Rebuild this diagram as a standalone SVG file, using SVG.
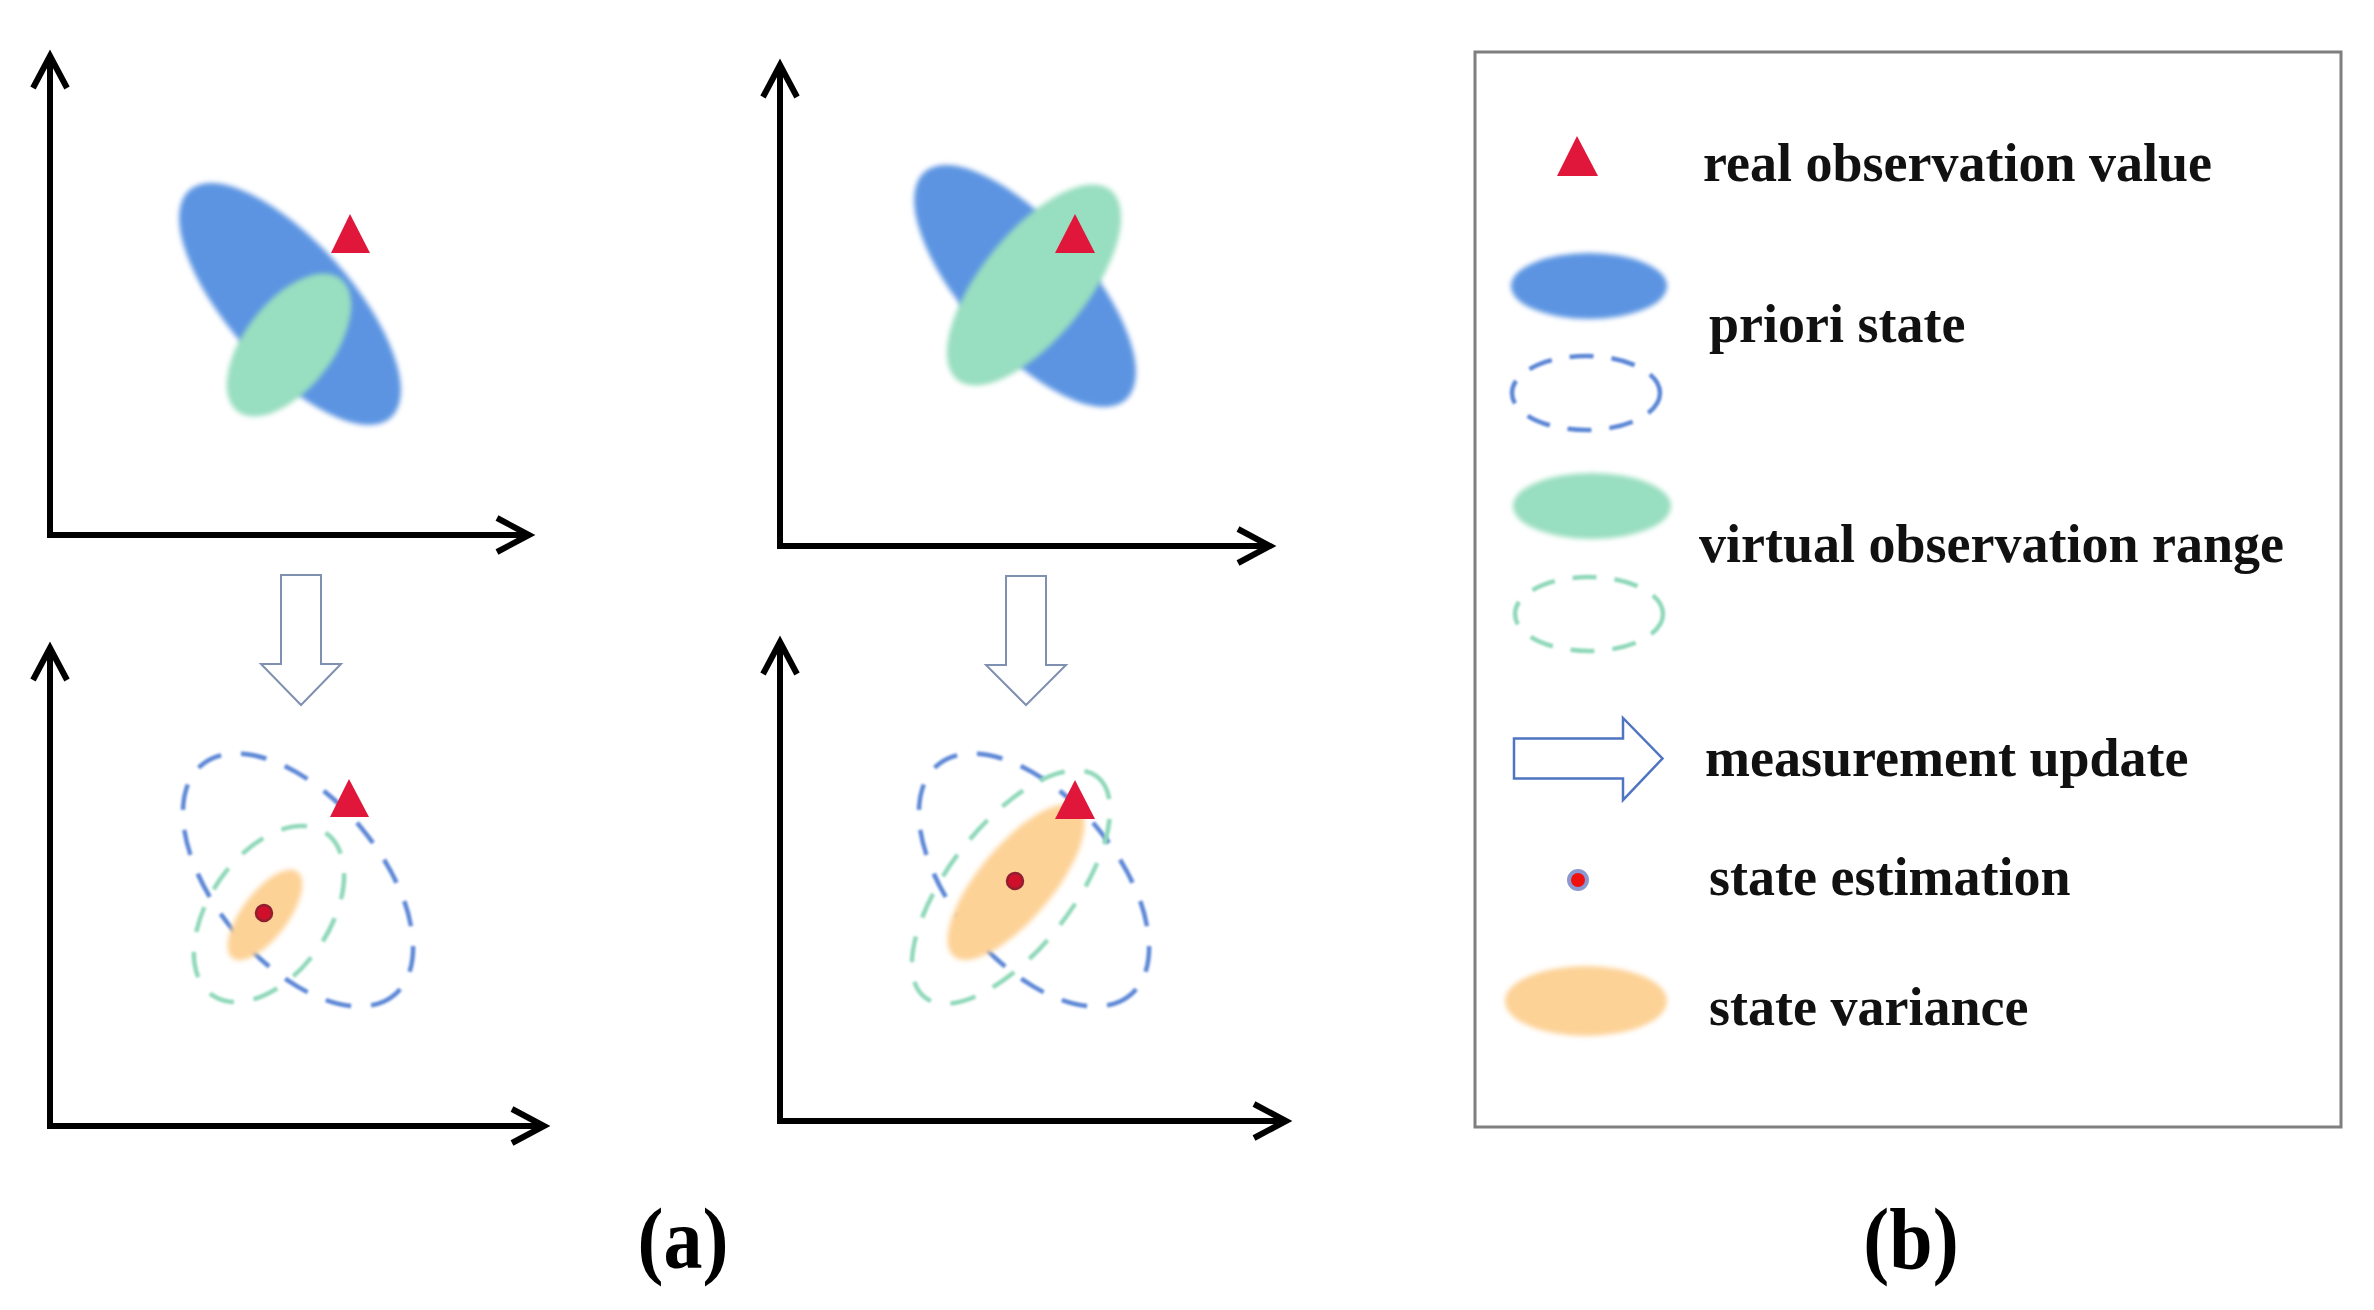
<svg xmlns="http://www.w3.org/2000/svg" width="2374" height="1310" viewBox="0 0 2374 1310">
<defs>
<filter id="soft" x="-30%" y="-30%" width="160%" height="160%"><feGaussianBlur stdDeviation="2.5"/></filter>
<filter id="softer" x="-30%" y="-30%" width="160%" height="160%"><feGaussianBlur stdDeviation="1"/></filter>
</defs>
<style>
.axis{fill:none;stroke:#000;stroke-width:6;stroke-linejoin:miter}
.head{fill:none;stroke:#000;stroke-width:6;stroke-linecap:butt;stroke-linejoin:miter}
.blue{fill:#5c94e2}
.green{fill:#98dec0}
.orange{fill:#fdd296}
.bdash{fill:none;stroke:#5b86d6;stroke-width:4.5;stroke-dasharray:26 20}
.gdash{fill:none;stroke:#8fd8b9;stroke-width:4.5;stroke-dasharray:26 20}
.tri{fill:#e0173b}
.dot{fill:#d0102a;stroke:#902030;stroke-width:2.5}
.hollow{fill:#fff;stroke:#8090b0;stroke-width:2}
.lbl{font-family:"Liberation Serif","Times New Roman",serif;font-weight:bold;font-size:54px;fill:#111}
.cap{font-family:"Liberation Serif","Times New Roman",serif;font-weight:bold;font-size:78px;fill:#000}
</style>
<rect width="2374" height="1310" fill="#fff"/>

<g id="panel-a-top">
  <path class="axis" d="M50,56 V535 H528"/>
  <path class="head" d="M33,88 L50,56 L67,88"/>
  <path class="head" d="M497,518 L529,535 L497,552"/>
  <ellipse class="blue" filter="url(#soft)" cx="290" cy="304" rx="152" ry="62" transform="rotate(48.5 290 304)"/>
  <ellipse class="green" filter="url(#soft)" cx="289" cy="345" rx="84" ry="44" transform="rotate(-52 289 345)"/>
  <polygon class="tri" points="350,214 370,253 331,253"/>
</g>

<g id="panel-b-top">
  <path class="axis" d="M780,65 V546 H1269"/>
  <path class="head" d="M763,97 L780,65 L797,97"/>
  <path class="head" d="M1238,529 L1270,546 L1238,563"/>
  <ellipse class="blue" filter="url(#soft)" cx="1025" cy="286" rx="152" ry="62" transform="rotate(48.5 1025 286)"/>
  <ellipse class="green" filter="url(#soft)" cx="1034" cy="285" rx="122" ry="53" transform="rotate(-51 1034 285)"/>
  <polygon class="tri" points="1075,214 1095,253 1055,253"/>
</g>

<g id="arrows">
  <path class="hollow" d="M281,575 H321 V664 H341 L301,705 L261,664 H281 Z"/>
  <path class="hollow" d="M1006,576 H1046 V665 H1066 L1026,705 L986,665 H1006 Z"/>
</g>

<g id="panel-a-bottom">
  <path class="axis" d="M50,648 V1126 H543"/>
  <path class="head" d="M33,680 L50,648 L67,680"/>
  <path class="head" d="M512,1109 L544,1126 L512,1143"/>
  <ellipse class="bdash" filter="url(#softer)" cx="298" cy="880" rx="150" ry="82" transform="rotate(50 298 880)"/>
  <ellipse class="gdash" filter="url(#softer)" cx="269" cy="914" rx="99" ry="60" transform="rotate(-55 269 914)"/>
  <ellipse class="orange" filter="url(#soft)" cx="265" cy="915" rx="54" ry="23" transform="rotate(-53 265 915)"/>
  <circle class="dot" cx="264" cy="913" r="8"/>
  <polygon class="tri" points="349,779 369,817 330,817"/>
</g>

<g id="panel-b-bottom">
  <path class="axis" d="M780,642 V1121 H1285"/>
  <path class="head" d="M763,674 L780,642 L797,674"/>
  <path class="head" d="M1254,1104 L1286,1121 L1254,1138"/>
  <ellipse class="bdash" filter="url(#softer)" cx="1034" cy="880" rx="150" ry="82" transform="rotate(50 1034 880)"/>
  <ellipse class="gdash" filter="url(#softer)" cx="1011" cy="887" rx="140" ry="62" transform="rotate(-52 1011 887)"/>
  <ellipse class="orange" filter="url(#soft)" cx="1016" cy="882" rx="97" ry="37" transform="rotate(-50 1016 882)"/>
  <circle class="dot" cx="1015" cy="881" r="8"/>
  <polygon class="tri" points="1075,780 1095,819 1055,819"/>
</g>

<g id="legend">
  <rect x="1475" y="52" width="866" height="1075" fill="none" stroke="#7f7f7f" stroke-width="3"/>
  <polygon class="tri" points="1577,136 1598,176 1557,176"/>
  <text class="lbl" x="1703" y="181">real observation value</text>
  <ellipse class="blue" filter="url(#soft)" cx="1589" cy="286" rx="78" ry="33"/>
  <text class="lbl" x="1709" y="342">priori state</text>
  <ellipse class="bdash" style="stroke-dasharray:24 18" filter="url(#softer)" cx="1586" cy="393" rx="74" ry="37"/>
  <ellipse class="green" filter="url(#soft)" cx="1592" cy="506" rx="79" ry="33"/>
  <text class="lbl" x="1699" y="562">virtual observation range</text>
  <ellipse class="gdash" style="stroke-dasharray:24 18" filter="url(#softer)" cx="1589" cy="614" rx="74" ry="37"/>
  <path d="M1514,738.5 H1623 V718 L1662.5,758.5 L1623,800 V778.5 H1514 Z" fill="#fff" stroke="#4f74c2" stroke-width="2.5"/>
  <text class="lbl" x="1705" y="776">measurement update</text>
  <circle cx="1578" cy="880" r="9" fill="#f01010" stroke="#8a9ad0" stroke-width="4"/>
  <text class="lbl" x="1709" y="895">state estimation</text>
  <ellipse class="orange" filter="url(#soft)" cx="1586" cy="1001" rx="81" ry="35"/>
  <text class="lbl" x="1709" y="1025">state variance</text>
</g>

<g id="captions">
  <text class="cap" text-anchor="middle" transform="translate(683,1268) scale(1,1.12)">(a)</text>
  <text class="cap" text-anchor="middle" transform="translate(1911,1268) scale(1,1.12)">(b)</text>
</g>
</svg>
